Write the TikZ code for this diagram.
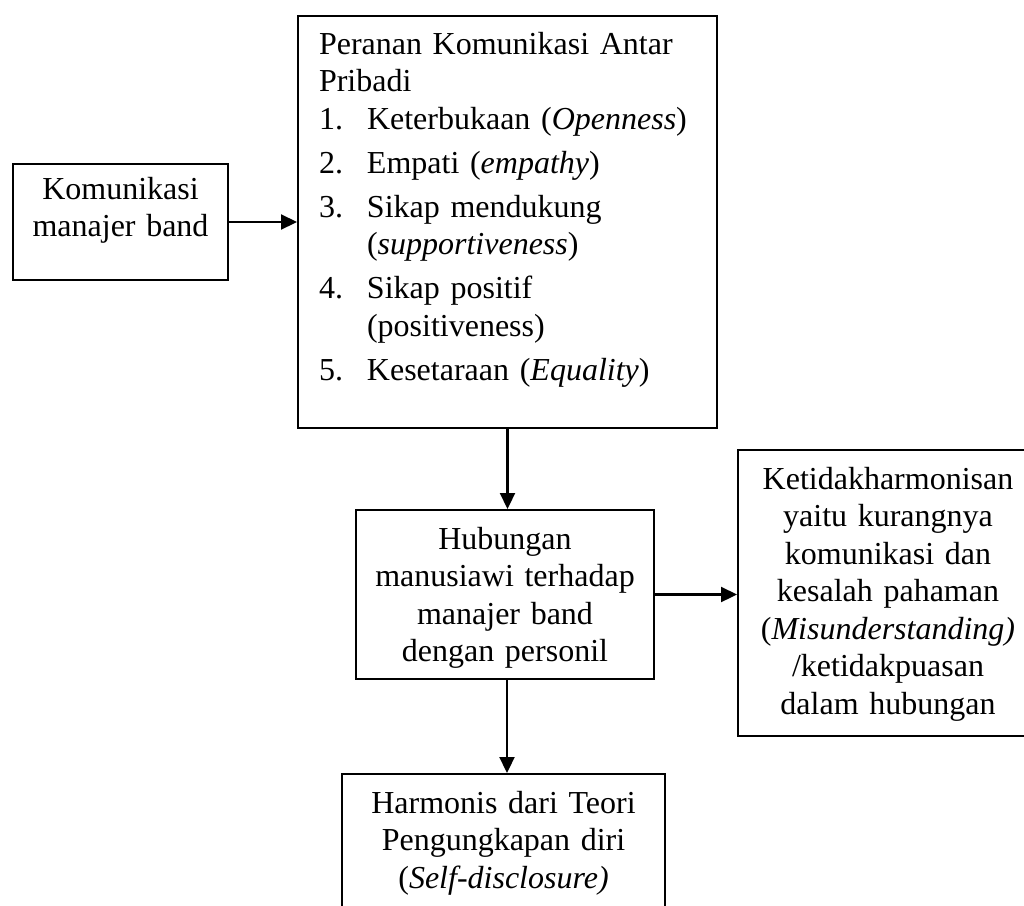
\documentclass[tikz,border=0pt]{standalone}
\usepackage{fontspec}
\setmainfont{Liberation Serif}
\usepackage{tikz}
\usetikzlibrary{arrows.meta, positioning, calc}
\newcommand{\butir}[1]{\makebox[48pt][l]{#1}}
\newcommand{\lanjut}{\hspace*{48pt}}

\begin{document}
\begin{tikzpicture}[
    x=1pt, y=-1pt,
    every node/.style={font=\fontsize{32}{37.5}\selectfont},
    kotak/.style={draw, line width=2pt, anchor=north west,
                  inner xsep=0pt, inner ysep=8pt, align=center},
    arrow/.style={-{Triangle[length=16pt, width=15pt]}, line width=2.2pt}
]
\useasboundingbox (0,0) rectangle (1024,905);

\node[kotak, text width=215pt, text height=27pt, text depth=73pt]
    (komm) at (12,163) {Komunikasi\\manajer band};
\node[kotak, align=left, inner xsep=21pt, text width=377pt,
      text height=30pt, text depth=366pt] (peran) at (297,15)
    {Peranan Komunikasi Antar\\
     Pribadi\\
     \butir{1.}Keterbukaan (\textit{Openness})\\[6.5pt]
     \butir{2.}Empati (\textit{empathy})\\[6.5pt]
     \butir{3.}Sikap mendukung\\
     \lanjut(\textit{supportiveness})\\[6.5pt]
     \butir{4.}Sikap positif\\
     \lanjut(positiveness)\\[6.5pt]
     \butir{5.}Kesetaraan (\textit{Equality})};
\node[kotak, text width=298pt, text height=31pt, text depth=122pt]
    (hub) at (355,509)
    {Hubungan\\manusiawi terhadap\\manajer band\\dengan personil};
\node[kotak, text width=300pt, text height=31pt, text depth=239pt]
    (tidak) at (737,449)
    {Ketidakharmonisan\\yaitu kurangnya\\komunikasi dan\\kesalah pahaman\\
     (\textit{Misunderstanding)}\\/ketidakpuasan\\dalam hubungan};
\node[kotak, text width=323pt, text height=31pt, text depth=113pt]
    (harm) at (341,773)
    {Harmonis dari Teori\\Pengungkapan diri\\(\textit{Self-disclosure)}};

\draw[arrow] (komm.east) -- (komm.east -| peran.west);
\draw[arrow] (peran.south) -- (peran.south |- hub.north);
\draw[arrow] (hub.east) -- (hub.east -| tidak.west);
\draw[arrow] ([xshift=2pt]hub.south) -- ([xshift=2pt]hub.south |- harm.north);

\end{tikzpicture}
\end{document}
